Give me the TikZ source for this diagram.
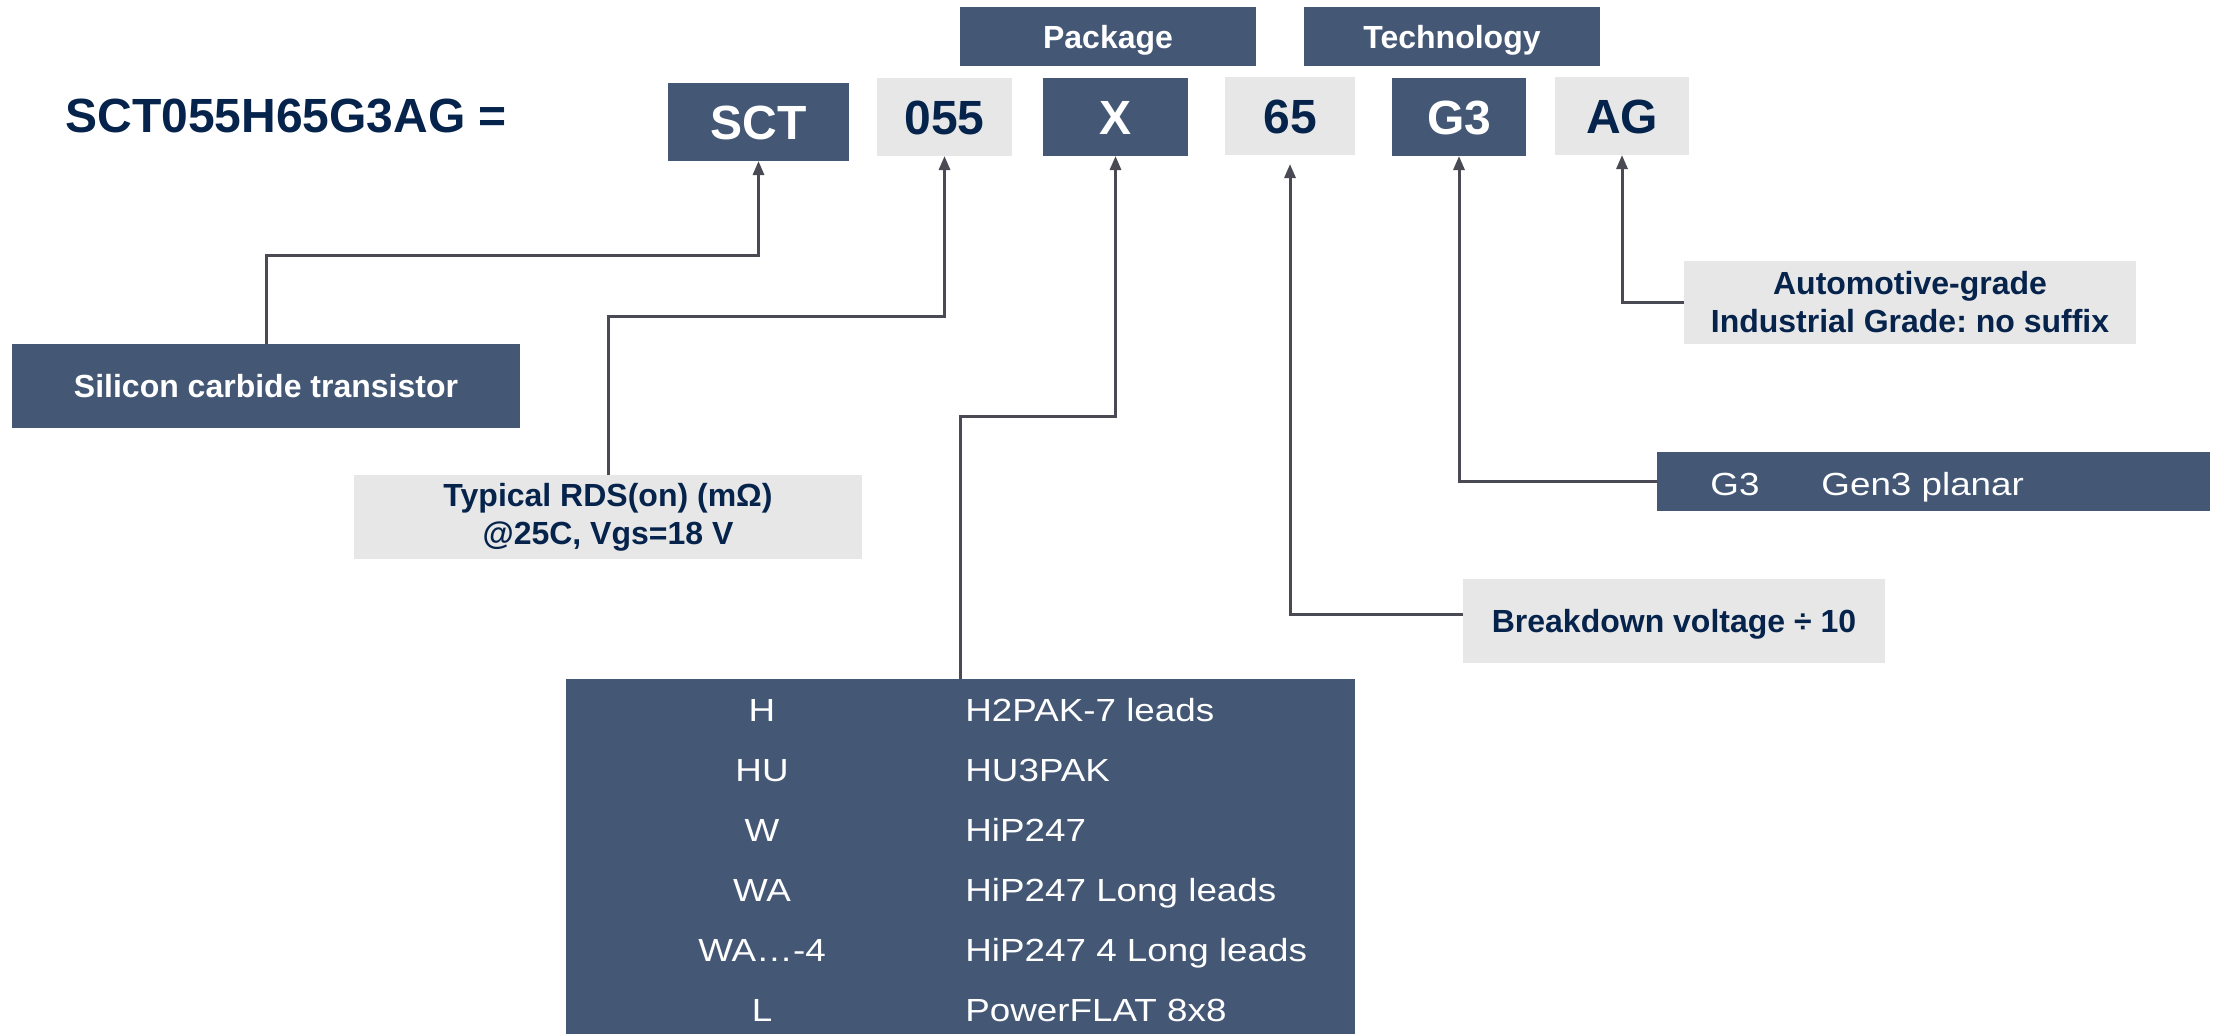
\documentclass[tikz,border=0pt]{standalone}
\usepackage{fontspec}
\setmainfont{Liberation Sans}
\newfontfamily\widesans{Liberation Sans}[FakeStretch=1.15]
\usetikzlibrary{arrows.meta}
\frenchspacing
\definecolor{darkcol}{RGB}{68, 88, 118}
\definecolor{lightcol}{RGB}{231, 231, 231}
\definecolor{navycol}{RGB}{6, 35, 76}
\definecolor{linecol}{RGB}{74, 74, 84}
\tikzset{
  box/.style      = {inner sep=0pt, outer sep=0pt, align=center},
  area/.style 2 args = {minimum width=#1*0.5pt, minimum height=#2*0.5pt},
  dark/.style     = {box, fill=darkcol, text=white},
  light/.style    = {box, fill=lightcol, text=navycol},
  codetext/.style = {font=\bfseries\fontsize{24}{28}\selectfont,
                     text height=17pt, text depth=0pt},
  lbltext/.style  = {font=\bfseries\fontsize{16}{19}\selectfont},
  oneline/.style  = {text height=11.5pt, text depth=0pt},
  rowtext/.style  = {font=\widesans\fontsize{16}{19}\selectfont, text=white,
                     inner sep=0pt},
  conn/.style     = {-{Triangle[length=7pt, width=5.5pt]}, draw=linecol,
                     line width=1.5pt},
}

\begin{document}
\begin{tikzpicture}[x=0.5pt, y=-0.5pt]
  \useasboundingbox (0,0) rectangle (2226,1034);

  %% ---------------- part number and its fields ----------------
  \node[anchor=base west, inner sep=0pt, text=navycol,
        font=\bfseries\fontsize{24}{28}\selectfont] (title) at (65,132)
       {SCT055H65G3AG =};

  \node[dark, lbltext, oneline, area={296}{59}] (pkghead) at (1108,36.5) {Package};
  \node[dark, lbltext, oneline, area={296}{59}] (techhead) at (1452,36.5) {Technology};

  \node[dark, codetext, area={181}{78}] (sct) at (758.5,122) {SCT};
  \node[light, codetext, area={135}{78}] (rds) at (944.5,117) {055};
  \node[dark, codetext, area={145}{78}] (pkg) at (1115.5,117) {X};
  \node[light, codetext, area={130}{78}] (volt) at (1290,116) {65};
  \node[dark, codetext, area={134}{78}] (tech) at (1459,117) {G3};
  \node[light, codetext, area={134}{78}] (grade) at (1622,116) {AG};

  %% ---------------- what each field means ----------------
  \node[dark, lbltext, oneline, area={508}{84}] (sic) at (266,386)
       {Silicon carbide transistor};
  \node[light, lbltext, area={508}{84}] (typ) at (608,517)
       {Typical RDS(on) (mΩ)\\@25C, Vgs=18 V};
  \node[light, lbltext, area={452}{83}] (auto) at (1910,302.5)
       {Automotive-grade\\Industrial Grade: no suffix};
  \node[light, lbltext, oneline, area={422}{84}] (brk) at (1674,621)
       {Breakdown voltage ÷ 10};

  \node[dark, area={553}{59}] (gen) at (1933.5,481.5) {};
  \node[rowtext, anchor=base west] (genkey) at (1710,495) {G3};
  \node[rowtext, anchor=base west] (genval) at (1821,495) {Gen3 planar};

  %% ---------------- package table ----------------
  \node[dark, area={789}{355}] (tab) at (960.5,856.5) {};
  \node[rowtext, anchor=base] (r1k) at (762,721) {H};
  \node[rowtext, anchor=base west] (r1v) at (965,721) {H2PAK-7 leads};
  \node[rowtext, anchor=base] (r2k) at (762,781) {HU};
  \node[rowtext, anchor=base west] (r2v) at (965,781) {HU3PAK};
  \node[rowtext, anchor=base] (r3k) at (762,841) {W};
  \node[rowtext, anchor=base west] (r3v) at (965,841) {HiP247};
  \node[rowtext, anchor=base] (r4k) at (762,901) {WA};
  \node[rowtext, anchor=base west] (r4v) at (965,901) {HiP247 Long leads};
  \node[rowtext, anchor=base] (r5k) at (762,961) {WA…-4};
  \node[rowtext, anchor=base west] (r5v) at (965,961) {HiP247 4 Long leads};
  \node[rowtext, anchor=base] (r6k) at (762,1021) {L};
  \node[rowtext, anchor=base west] (r6v) at (965,1021) {PowerFLAT 8x8};

  %% ---------------- leaders ----------------
  \coordinate (ksct) at (0,255);
  \coordinate (krds) at (0,316);
  \coordinate (kpkg) at (0,416);
  \coordinate (kvolt) at (0,614);

  \draw[conn] (sic.north) |- (ksct -| sct.south) -- (sct.south);
  \draw[conn] (typ.north) |- (krds -| rds.south) -- (rds.south);
  \draw[conn] (tab.north) |- (kpkg -| pkg.south) -- (pkg.south);
  \draw[conn, shorten >=4.5pt] (brk.west |- kvolt) -| (volt.south);
  \draw[conn] (gen.west) -| (tech.south);
  \draw[conn] (auto.west) -| (grade.south);

\end{tikzpicture}
\end{document}
